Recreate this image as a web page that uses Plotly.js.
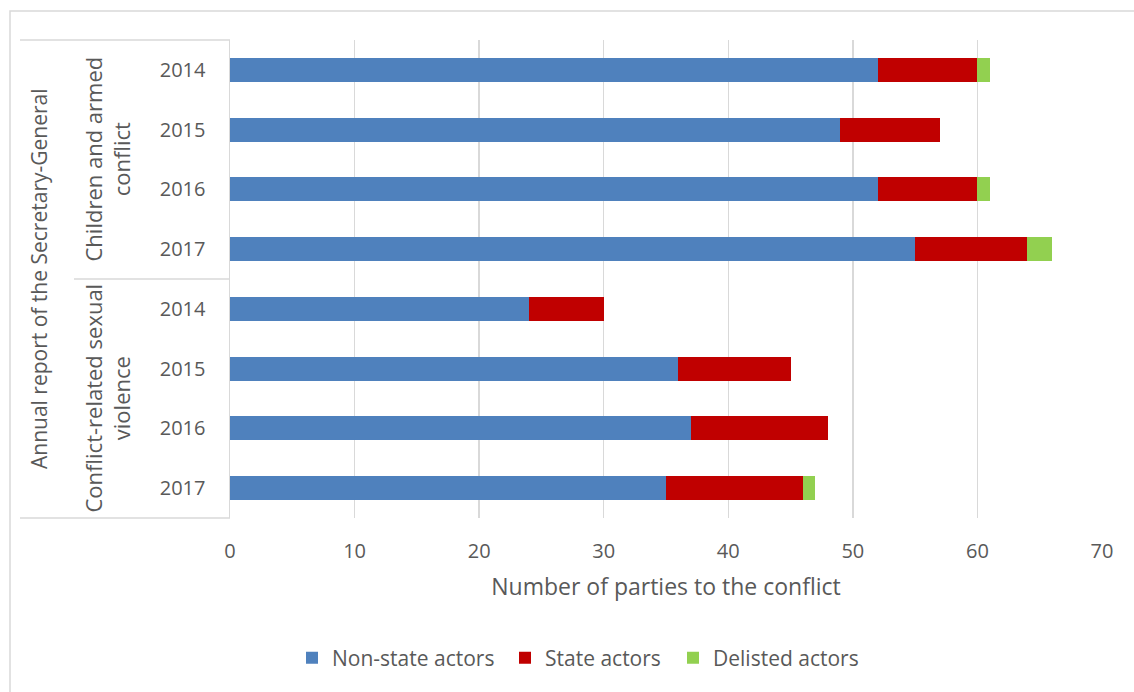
<!DOCTYPE html>
<html>
<head>
<meta charset="utf-8">
<script src="https://cdn.plot.ly/plotly-3.0.1.min.js"></script>
<style>
  html, body { margin: 0; padding: 0; background: #fff; }
  #chart { width: 1134px; height: 692px; }
</style>
</head>
<body>
<div id="chart"></div>
<script>
// Parties listed in the Secretary-General's annual reports, by report and year
const rowIds = ['CAC-2014', 'CAC-2015', 'CAC-2016', 'CAC-2017',
                'CRSV-2014', 'CRSV-2015', 'CRSV-2016', 'CRSV-2017'];
const yearLabels = ['2014', '2015', '2016', '2017', '2014', '2015', '2016', '2017'];
const groupLabels = ['Children and armed<br>conflict', 'Conflict-related sexual<br>violence'];
const groupCentres = [1.5, 5.5];
const outerLabel = 'Annual report of the Secretary-General';

const nonState = [52, 49, 52, 55, 24, 36, 37, 35];
const state    = [8, 8, 8, 9, 6, 9, 11, 11];
const delisted = [1, 0, 1, 2, 0, 0, 0, 1];

const xTicks = [0, 10, 20, 30, 40, 50, 60, 70];

const FONT = '"Open Sans", Lato, sans-serif';
const GREY_TEXT = '#595959';
const LINE = '#d9d9d9';

// pixel helpers for the plot box (left 230, right 1102, top 40, bottom 518)
const L = 230, R = 1102, T = 40, B = 518;
const px = v => (v - L) / (R - L);
const py = v => (B - v) / (B - T);

function series(name, values, color, legendId) {
  return {
    type: 'bar', orientation: 'h', name: name,
    x: values, y: rowIds,
    marker: { color: color, line: { width: 0 } },
    legend: legendId,
    hoverinfo: 'x+name'
  };
}

const data = [
  series('Non-state actors', nonState, '#4f81bd', 'legend'),
  series('State actors', state, '#c00000', 'legend2'),
  series('Delisted actors', delisted, '#92d050', 'legend3')
];

// one legend box per series so the entries sit on a shared baseline with even gaps
function legendAt(leftPx) {
  return {
    orientation: 'h', xanchor: 'left', x: px(leftPx), xref: 'paper',
    y: py(658), yanchor: 'middle', yref: 'paper',
    font: { family: FONT, size: 21, color: GREY_TEXT },
    itemwidth: 30, bgcolor: 'rgba(0,0,0,0)'
  };
}

const shapes = [
  // outer frame
  { type: 'rect', xref: 'paper', yref: 'paper', x0: px(10), x1: px(1160), y0: py(720), y1: py(11),
    line: { color: LINE, width: 1.5 }, fillcolor: 'rgba(0,0,0,0)', layer: 'below' },
  // category-axis separators
  { type: 'line', xref: 'paper', yref: 'paper', x0: px(20), x1: 0, y0: 1, y1: 1, line: { color: LINE, width: 1.5 } },
  { type: 'line', xref: 'paper', yref: 'paper', x0: px(20), x1: 0, y0: 0, y1: 0, line: { color: LINE, width: 1.5 } },
  { type: 'line', xref: 'paper', yref: 'y', x0: px(74), x1: 0, y0: 3.5, y1: 3.5, line: { color: LINE, width: 1.5 } }
];

const annotations = groupLabels.map((t, i) => ({
  text: t, xref: 'paper', yref: 'y', x: px(107), y: groupCentres[i],
  xanchor: 'center', yanchor: 'middle',
  textangle: -90, showarrow: false, align: 'center',
  font: { family: FONT, size: 22, color: GREY_TEXT }
}));
annotations.push({
  text: outerLabel, xref: 'paper', yref: 'y', x: px(39), y: 3.5,
  xanchor: 'center', yanchor: 'middle',
  textangle: -90, showarrow: false,
  font: { family: FONT, size: 21, color: GREY_TEXT }
});

const layout = {
  width: 1134, height: 692,
  margin: { l: L, r: 1134 - R, t: T, b: 692 - B, pad: 0 },
  paper_bgcolor: '#fff', plot_bgcolor: '#fff',
  barmode: 'stack', bargap: 0.6,
  font: { family: FONT, color: GREY_TEXT },
  showlegend: true,
  legend: legendAt(292),
  legend2: legendAt(505),
  legend3: legendAt(673),
  xaxis: {
    range: [0, 70], tickvals: xTicks, ticktext: xTicks.map(String),
    showgrid: true, gridcolor: LINE, gridwidth: 1.5,
    zeroline: false, showline: false,
    ticks: 'outside', ticklen: 15, tickcolor: 'rgba(0,0,0,0)',
    tickfont: { family: FONT, size: 20, color: GREY_TEXT },
    title: { text: 'Number of parties to the conflict', standoff: 15,
             font: { family: FONT, size: 23, color: GREY_TEXT } },
    fixedrange: true
  },
  yaxis: {
    type: 'category', categoryorder: 'array', categoryarray: rowIds,
    autorange: 'reversed',
    tickvals: rowIds, ticktext: yearLabels,
    showgrid: false, zeroline: false,
    showline: true, linecolor: LINE, linewidth: 1.5,
    ticks: 'outside', ticklen: 19, tickcolor: 'rgba(0,0,0,0)',
    tickfont: { family: FONT, size: 20, color: GREY_TEXT },
    fixedrange: true
  },
  shapes: shapes,
  annotations: annotations
};

Plotly.newPlot('chart', data, layout, { displayModeBar: false, staticPlot: true });
</script>
</body>
</html>
